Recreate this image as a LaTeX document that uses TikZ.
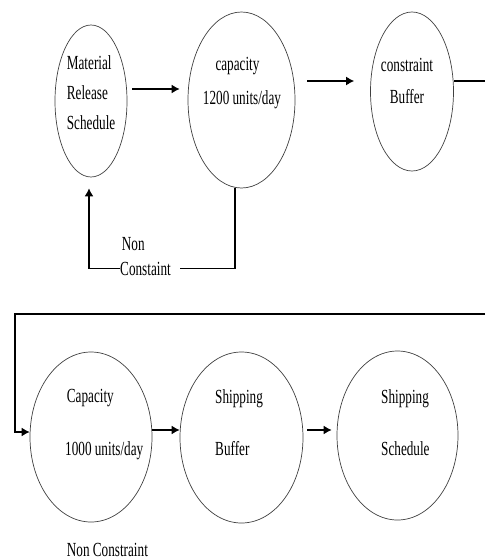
\documentclass[tikz,border=0pt]{standalone}
\usepackage{fontspec}
\setmainfont[FakeStretch=0.66]{Liberation Serif}
\usetikzlibrary{shapes.geometric,arrows.meta}
\tikzset{
  blob/.style={ellipse, draw=black!75, line width=0.7pt, inner sep=0pt},
  txt/.style={anchor=base west, inner sep=0pt, font=\fontsize{20}{24}\selectfont},
  ctxt/.style={txt, anchor=base},
  line/.style={line width=1.3pt},
  flow/.style={line, -{Latex[length=8pt,width=9pt]}}
}
\begin{document}
\begin{tikzpicture}[x=1pt,y=-1pt]
                    \useasboundingbox (0,0) rectangle (485,560);
                    % Top row
                    \node[blob, minimum width=72pt, minimum height=152pt] (mrs) at (91,101) {};
                    \node[txt] (mrsA) at (66.7,69) {Material};
                    \node[txt] (mrsB) at (66.7,99) {Release};
                    \node[txt] (mrsC) at (66.7,129) {Schedule};
                    \node[blob, minimum width=107pt, minimum height=176pt] (capA) at (241.5,100) {};
                    \node[ctxt] (capAa) at (237.5,70) {capacity};
                    \node[ctxt] (capAb) at (242,104) {1200 units/day};
                    \node[blob, minimum width=83pt, minimum height=159pt] (cbuf) at (412,91.5) {};
                    \node[ctxt] (cbufA) at (407,71) {constraint};
                    \node[ctxt] (cbufB) at (407,103) {Buffer};
                    % Top Arrows
                    \draw[flow, shorten <=5pt, shorten >=8pt] (mrs.east |- 0,89) -- (capA.west |- 0,89);
                    \draw[flow, shorten <=12pt, shorten >=16pt] (capA.east |- 0,81) -- (cbuf.west |- 0,81);
                    \coordinate (eR) at (485,81);
                    \draw[line] (cbuf.east |- eR) -- (eR);
                    % Loop back
                    \node[txt] (ncA) at (121.7,250.7) {Non};
                    \node[txt] (ncB) at (120,275) {Constaint};
                    \draw[line] ([xshift=-6.5pt]capA.south) |- ([xshift=9pt]ncB.east);
                    \draw[flow] (ncB.west) -| ([xshift=-2pt,yshift=-11pt]mrs.south);
                    % Bottom row
                    \node[blob, minimum width=122pt, minimum height=170pt] (capB) at (91,437) {};
                    \node[txt] (capBa) at (66.7,402) {Capacity};
                    \node[txt] (capBb) at (65,455) {1000 units/day};
                    \node[blob, minimum width=123pt, minimum height=171pt] (sbuf) at (241.5,437.5) {};
                    \node[txt] (sbufA) at (215,403) {Shipping};
                    \node[txt] (sbufB) at (215,455) {Buffer};
                    \node[blob, minimum width=121pt, minimum height=169pt] (ssch) at (397.5,435.5) {};
                    \node[txt] (sschA) at (381,403) {Shipping};
                    \node[txt] (sschB) at (381,455) {Schedule};
                    \node[txt] (ncC) at (66.7,556) {Non Constraint};
                    % Bottom Arrows
                    \coordinate (eB) at (485,314);
                    \coordinate (tl) at (15,314);
                    \draw[flow] (eB) -- (tl) |- ([yshift=5pt]capB.west);
                    \draw[flow] (capB.east |- 0,430) -- (sbuf.west |- 0,430);
                    \draw[flow, shorten <=4pt, shorten >=5pt] (sbuf.east |- 0,430) -- (ssch.west |- 0,430);
                \end{tikzpicture}
\end{document}
